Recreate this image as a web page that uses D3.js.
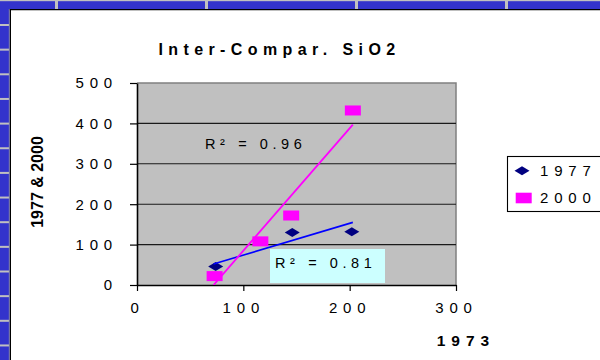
<!DOCTYPE html>
<html>
<head>
<meta charset="utf-8">
<script src="https://cdn.jsdelivr.net/npm/d3@7"></script>
<style>
  html, body { margin: 0; padding: 0; background: #3333cc; }
  svg { display: block; }
  text { font-family: "Liberation Sans", Arial, sans-serif; fill: #000; }
</style>
</head>
<body>
<svg id="chart" width="600" height="360"></svg>
<script>
// Observations: x is the 1973 value, y the later survey value
const x1977 = [74, 146, 202];
const y1977 = [46, 130, 132];
const x2000 = [73, 116, 145, 203];
const y2000 = [22, 108, 172, 432];

// Linear trend lines, given as value at the start and end of the fitted range
const trendRange = [72, 203];
const trend1977 = [52, 155];
const trend2000 = [0, 397];
const r2Labels = ["R² = 0.96", "R² = 0.81"];

const xTicks = [0, 100, 200, 300];
const yTicks = [0, 100, 200, 300, 400, 500];
const seriesNames = ["1977", "2000"];

const chartTitle = "Inter-Compar. SiO2";
const xTitle = "1973";
const yTitle = "1977 & 2000";

const svg = d3.select("#chart");

// Spreadsheet backdrop behind the chart object
svg.append("rect").attr("width", 600).attr("height", 360).attr("fill", "#3333cc");
svg.append("rect").attr("x", 0).attr("y", 0).attr("width", 600).attr("height", 1.2).attr("fill", "#c0c0c0");
svg.selectAll(".colLine").data(d3.range(55, 600, 150)).join("rect")
  .attr("x", d => d).attr("y", 0).attr("width", 3).attr("height", 9).attr("fill", "#c0c0c0");
svg.selectAll(".rowLine").data(d3.range(0, 14)).join("rect")
  .attr("x", 0).attr("y", i => 24 + i * 24.65).attr("width", 9).attr("height", 2).attr("fill", "#c0c0c0");

// Chart object
svg.append("rect").attr("x", 10).attr("y", 9).attr("width", 600).attr("height", 360).attr("fill", "#fff");
svg.append("line").attr("x1", 9).attr("x2", 600).attr("y1", 9.6).attr("y2", 9.6).attr("stroke", "#000").attr("stroke-width", 1.3);
svg.append("line").attr("x1", 10.4).attr("x2", 10.4).attr("y1", 9).attr("y2", 360).attr("stroke", "#000").attr("stroke-width", 1.2);
svg.append("line").attr("x1", 9.3).attr("x2", 9.3).attr("y1", 9).attr("y2", 360).attr("stroke", "#a0a0a0").attr("stroke-width", 0.8);

const x = d3.scaleLinear().domain([0, 300]).range([137, 456]);
const y = d3.scaleLinear().domain([0, 500]).range([285, 83]);

// Plot area
svg.append("rect")
  .attr("x", x(0)).attr("y", y(500))
  .attr("width", x(300) - x(0)).attr("height", y(0) - y(500))
  .attr("fill", "#c0c0c0");
svg.append("path")
  .attr("d", `M${x(0)},${y(500)}H${x(300)}V${y(0)}`)
  .attr("fill", "none").attr("stroke", "#808080").attr("stroke-width", 1.5);

svg.selectAll(".grid").data(yTicks.filter(t => t > 0 && t < 500)).join("line")
  .attr("x1", x(0)).attr("x2", x(300))
  .attr("y1", d => y(d)).attr("y2", d => y(d))
  .attr("stroke", "#1a1a1a").attr("stroke-width", 1.1);

// Axes
const tickFont = g => g.selectAll("text")
  .style("font-size", "15px").style("letter-spacing", "5.8px").attr("fill", "#000");

const yAxis = svg.append("g").attr("transform", `translate(${x(0)},0)`)
  .call(d3.axisLeft(y).tickValues(yTicks).tickSize(7).tickSizeOuter(0).tickPadding(12).tickFormat(d3.format("d")))
  .call(tickFont);
const xAxis = svg.append("g").attr("transform", `translate(0,${y(0)})`)
  .call(d3.axisBottom(x).tickValues(xTicks).tickSize(6).tickSizeOuter(0).tickPadding(11).tickFormat(d3.format("d")))
  .call(tickFont);
[yAxis, xAxis].forEach(a => {
  a.select(".domain").attr("stroke", "#000").attr("stroke-width", 1.6);
  a.selectAll(".tick line").attr("stroke", "#000").attr("stroke-width", 1.2);
});

// Clip for trend lines
svg.append("clipPath").attr("id", "plotClip").append("rect")
  .attr("x", x(0)).attr("y", y(500)).attr("width", x(300) - x(0)).attr("height", y(0) - y(500));

// Markers
const diamond = (cx, cy) => `M${cx - 7.5},${cy}L${cx},${cy - 4.5}L${cx + 7.5},${cy}L${cx},${cy + 4.5}Z`;

svg.append("g").selectAll("path").data(d3.zip(x1977, y1977)).join("path")
  .attr("d", d => diamond(x(d[0]), y(d[1])))
  .attr("fill", "#000080");

svg.append("g").selectAll("rect").data(d3.zip(x2000, y2000)).join("rect")
  .attr("x", d => x(d[0]) - 8).attr("y", d => y(d[1]) - 5)
  .attr("width", 16).attr("height", 10)
  .attr("fill", "#ff00ff");

// Trend lines
const trendLine = d3.line().x(d => x(d[0])).y(d => y(d[1]));
svg.append("path")
  .attr("d", trendLine(d3.zip(trendRange, trend1977)))
  .attr("clip-path", "url(#plotClip)")
  .attr("stroke", "#0000ff").attr("stroke-width", 1.6).attr("fill", "none");
svg.append("path")
  .attr("d", trendLine(d3.zip(trendRange, trend2000)))
  .attr("clip-path", "url(#plotClip)")
  .attr("stroke", "#ff00ff").attr("stroke-width", 1.8).attr("fill", "none");

// R² labels
const labelStyle = s => s.style("font-size", "14.5px").style("letter-spacing", "4.6px");
svg.append("text").attr("x", 205).attr("y", 149.3).text(r2Labels[0]).call(labelStyle);
svg.append("rect").attr("x", 270).attr("y", 249).attr("width", 115).attr("height", 34).attr("fill", "#ccffff");
svg.append("text").attr("x", 275).attr("y", 268.3).text(r2Labels[1]).call(labelStyle);

// Titles
svg.append("text").attr("x", 279.5).attr("y", 55).attr("text-anchor", "middle")
  .style("font-size", "16px").style("font-weight", "bold").style("letter-spacing", "5.4px")
  .text(chartTitle);
svg.append("text").attr("x", 466).attr("y", 345.7).attr("text-anchor", "middle")
  .style("font-size", "15.5px").style("font-weight", "bold").style("letter-spacing", "6px")
  .text(xTitle);
svg.append("text").attr("transform", "translate(43.3,182) rotate(-90)").attr("text-anchor", "middle")
  .style("font-size", "16px").style("font-weight", "bold")
  .text(yTitle);

// Legend
const legend = svg.append("g");
legend.append("rect").attr("x", 507.5).attr("y", 156.5).attr("width", 120).attr("height", 55)
  .attr("fill", "#fff").attr("stroke", "#000").attr("stroke-width", 1.1);
const legendRows = [170.7, 198];
legend.append("path").attr("d", diamond(522, legendRows[0])).attr("fill", "#000080");
legend.append("rect").attr("x", 515.7).attr("y", legendRows[1] - 5.3).attr("width", 16).attr("height", 10.6).attr("fill", "#ff00ff");
legend.selectAll("text").data(seriesNames).join("text")
  .attr("x", 540).attr("y", (d, i) => legendRows[i] + 5.4)
  .style("font-size", "15px").style("letter-spacing", "5.8px")
  .text(d => d);
</script>
</body>
</html>
